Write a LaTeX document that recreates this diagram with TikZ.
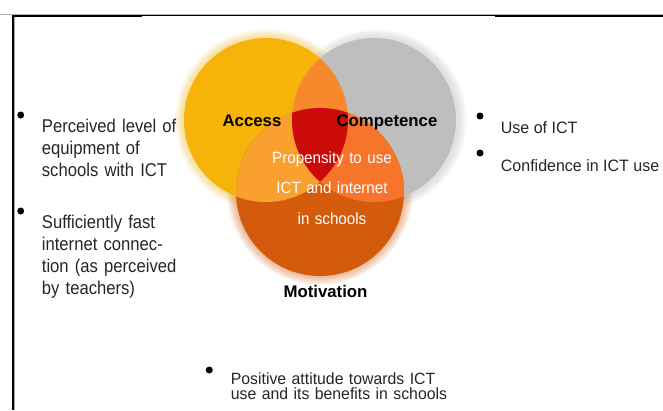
\documentclass[tikz,border=0pt]{standalone}
\usepackage{fontspec}
\setmainfont{Liberation Sans}
\newfontfamily\narrowsans[FakeStretch=0.9]{Liberation Sans}
\newfontfamily\slimsans[FakeStretch=0.97]{Liberation Sans}
\newfontfamily\innersans[FakeStretch=0.93]{Liberation Sans}

% Venn colours
\definecolor{accY}{HTML}{F6B40A}
\definecolor{compG}{HTML}{BEBEBE}
\definecolor{motO}{HTML}{D45B0B}
\definecolor{acOr}{HTML}{F7882B}
\definecolor{amOr}{HTML}{F9A02F}
\definecolor{cmOr}{HTML}{F6752A}
\definecolor{allR}{HTML}{CB0A0A}

\tikzset{
  dotmark/.style={circle, fill=black, inner sep=0pt, minimum size=7pt},
  sidetext/.style={inner sep=0pt, anchor=base west, text width=200pt, align=left,
    font=\narrowsans\fontsize{18.5}{22}\selectfont, text=black!85},
  righttext/.style={inner sep=0pt, anchor=base west,
    font=\slimsans\fontsize{16.5}{20}\selectfont, text=black!85},
  bottomtext/.style={inner sep=0pt, anchor=base west, text width=260pt, align=left,
    font=\slimsans\fontsize{16.3}{15.5}\selectfont, text=black!85},
  circlelabel/.style={inner sep=0pt, anchor=base, font=\bfseries\fontsize{16.8}{20}\selectfont},
  centertext/.style={inner sep=0pt, anchor=base, text width=160pt, align=center,
    font=\innersans\fontsize{16.3}{30.5}\selectfont, text=white},
}

\begin{document}
\begin{tikzpicture}[x=1pt, y=-1pt]
\useasboundingbox (0,0) rectangle (663,410);
\clip (0,0) rectangle (663,410);

% frame
\draw[gray!60, line width=0.9pt] (0,14) -- (663,14);
\draw[black, line width=1.4pt] (13,410) -- (13,16) -- (663,16);
\draw[gray!60, line width=0.9pt] (14.8,410) -- (14.8,17.2);

% picture panel
\fill[white] (142,15.6) rectangle (495,303);

% circle centres
\coordinate (acc) at (266,120);
\coordinate (comp) at (374,120);
\coordinate (mot) at (320,192);
\def\rA{82}
\def\rM{84}

% soft halos
\foreach \k in {1,...,9} {
  \fill[accY, opacity=0.05] (acc) circle ({\rA+\k});
  \fill[compG, opacity=0.06] ([xshift=2pt]comp) circle ({\rA+\k});
  \fill[motO, opacity=0.05] (mot) circle ({\rM+\k});
}

% the three sets
\fill[accY] (acc) circle (\rA);
\fill[compG] (comp) circle (\rA);
\fill[motO] (mot) circle (\rM);

% pairwise overlaps
\begin{scope}
  \clip (acc) circle (\rA);
  \fill[acOr] (comp) circle (\rA);
  \fill[amOr] (mot) circle (\rM);
\end{scope}
\begin{scope}
  \clip (comp) circle (\rA);
  \fill[cmOr] (mot) circle (\rM);
\end{scope}
% common core
\begin{scope}
  \clip (acc) circle (\rA);
  \clip (comp) circle (\rA);
  \fill[allR] (mot) circle (\rM);
\end{scope}

% set labels
\node[circlelabel] (accl) at (252,126) {Access};
\node[circlelabel] (compl) at (387,126) {Competence};
\node[circlelabel] (motl) at (325.5,297.7) {Motivation};
\node[centertext] (core) at (332,163.3) {Propensity to use\\ICT and internet\\in schools};

% access factors
\node[dotmark] (b1) at (20.7,115) {};
\node[sidetext] (equip) at (41.7,132.7) {Perceived level of\\equipment of\\schools with ICT};
\node[dotmark] (b2) at (20.7,211) {};
\node[sidetext] (speed) at (41.7,228) {Sufficiently fast\\internet connec-\\tion (as perceived\\by teachers)};

% competence factors
\node[dotmark] (b3) at (480,116) {};
\node[righttext] (use) at (500.7,133.3) {Use of ICT};
\node[dotmark] (b4) at (480,153) {};
\node[righttext] (conf) at (500.7,171) {Confidence in ICT use};

% motivation factor
\node[dotmark] (b5) at (209.3,370) {};
\node[bottomtext] (att) at (230.7,384.3) {Positive attitude towards ICT\\use and its benefits in schools};
\end{tikzpicture}
\end{document}
